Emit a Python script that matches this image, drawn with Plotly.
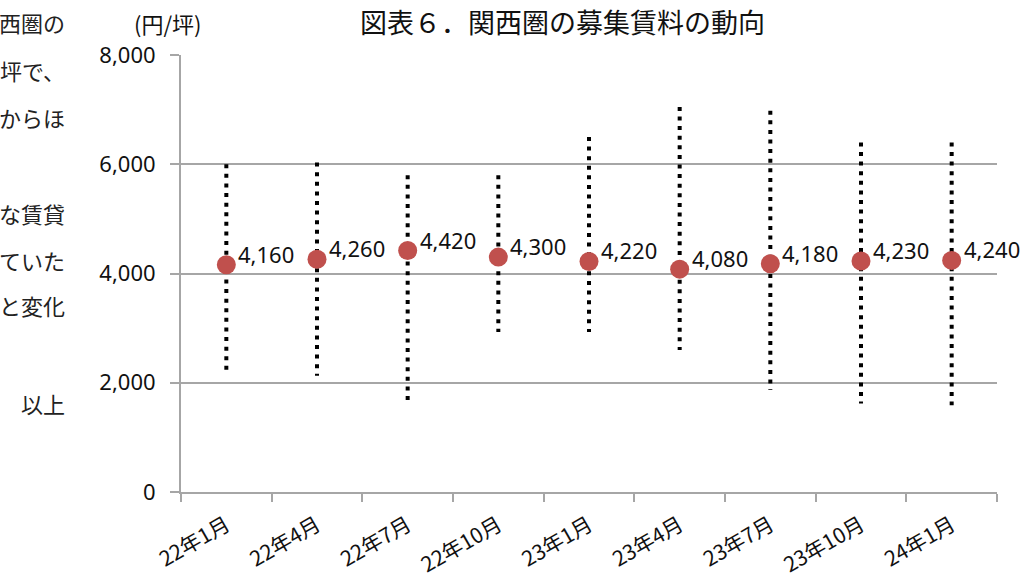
import plotly.graph_objects as go

# ---- data ----
categories = ["22年1月", "22年4月", "22年7月", "22年10月", "23年1月",
              "23年4月", "23年7月", "23年10月", "24年1月"]
avg_rent = [4160, 4260, 4420, 4300, 4220, 4080, 4180, 4230, 4240]
max_rent = [6000, 6030, 5800, 5800, 6500, 7050, 6980, 6400, 6400]
min_rent = [2200, 2130, 1680, 2930, 2930, 2600, 1870, 1620, 1590]
y_ticks = [0, 2000, 4000, 6000, 8000]
side_text = ["西圏の", "坪で、", "からほ", "な賃貸", "ていた", "と変化", "以上"]
side_text_y = [22, 70, 117, 213, 260, 305, 403]

title = "図表６．関西圏の募集賃料の動向"
unit = "(円/坪)"

CJK = "Noto Sans CJK JP"
NUM = "Noto Sans"

# range bars: one trace, segments separated by None
rx, ry = [], []
for c, lo, hi in zip(categories, min_rent, max_rent):
    rx += [c, c, None]
    ry += [hi, lo, None]

fig = go.Figure()
fig.add_trace(go.Scatter(
    x=rx, y=ry, mode="lines",
    line=dict(color="black", width=4, dash="4px,5.6px"),
    hoverinfo="skip", showlegend=False,
))
fig.add_trace(go.Scatter(
    x=categories, y=avg_rent, mode="markers",
    marker=dict(color="#C0504D", size=19, line=dict(width=0)),
    showlegend=False,
))

annotations = []
for c, v in zip(categories, avg_rent):
    annotations.append(dict(
        x=c, y=v, xref="x", yref="y", text=f"{v:,}",
        showarrow=False, xanchor="left", yanchor="middle",
        xshift=10, yshift=11,
        font=dict(family=NUM, size=22, color="#111111"),
    ))

annotations.append(dict(
    x=562, y=583 - 22, xref="paper", yref="paper", text=title,
    showarrow=False, xanchor="center", yanchor="middle",
    font=dict(family=CJK, size=27, color="#111111"),
))
annotations.append(dict(
    x=168, y=583 - 23, text=unit, showarrow=False,
    xanchor="center", yanchor="middle",
    font=dict(family=CJK, size=22, color="#111111"),
))
for t, yy in zip(side_text, side_text_y):
    annotations.append(dict(
        x=67, y=583 - yy, text=t, showarrow=False,
        xanchor="right", yanchor="middle",
        font=dict(family=CJK, size=22, color="#222222"),
    ))

# convert pixel-based paper annotations to paper coords
L, R, T, B = 181, 37, 55, 91
W, H = 1034, 583
pw, ph = W - L - R, H - T - B
for a in annotations:
    if a.get("xref") != "x":
        a["xref"] = "paper"
        a["yref"] = "paper"
        a["x"] = (a["x"] - L) / pw
        a["y"] = (a["y"] - B) / ph

fig.update_layout(
    width=W, height=H,
    margin=dict(l=L, r=R, t=T, b=B, autoexpand=False),
    paper_bgcolor="white", plot_bgcolor="white",
    annotations=annotations,
    showlegend=False,
)
fig.update_xaxes(
    type="category", categoryorder="array", categoryarray=categories,
    range=[-0.5, len(categories) - 0.5],
    tickson="boundaries", ticks="outside", ticklen=8, tickwidth=2,
    tickcolor="#a6a6a6",
    showline=True, linecolor="#a6a6a6", linewidth=2,
    showgrid=False, zeroline=False,
    tickangle=-30, automargin=False,
    tickfont=dict(family=CJK, size=21, color="#111111"),
    ticklabelstandoff=11,
)
fig.update_yaxes(
    range=[0, 8000], tickvals=y_ticks, tickformat=",",
    ticks="outside", ticklen=9, tickwidth=2, tickcolor="#a6a6a6",
    showline=True, linecolor="#a6a6a6", linewidth=2,
    showgrid=True, gridcolor="#a6a6a6", gridwidth=2,
    zeroline=False, automargin=False,
    tickfont=dict(family=NUM, size=22, color="#111111"),
    ticklabelstandoff=10,
)

fig.write_html("out.html")
